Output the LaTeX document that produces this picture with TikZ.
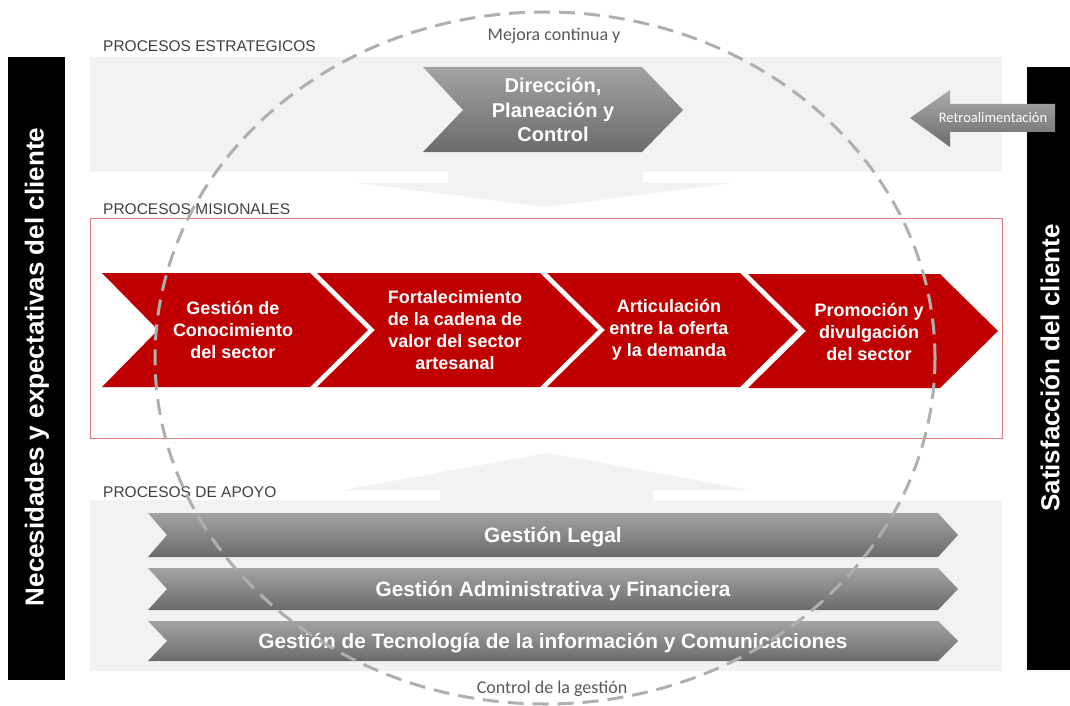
\documentclass[tikz,border=0pt]{standalone}
\usepackage{fontspec}
\setmainfont{Liberation Sans}
\newfontfamily\calibri{Carlito}
\definecolor{misred}{HTML}{C00000}
\definecolor{framered}{HTML}{E07A7A}
\definecolor{bandgray}{HTML}{F2F2F2}
\definecolor{labelgray}{HTML}{404040}
\definecolor{notegray}{HTML}{595959}
\definecolor{bartop}{HTML}{A3A3A3}
\definecolor{barbottom}{HTML}{6B6B6B}
\definecolor{circlegray}{HTML}{AFAFAF}
\tikzset{
  band/.style={fill=bandgray},
  titulo/.style={anchor=west,inner sep=0pt,text=labelgray,font=\fontsize{15.5}{16}\selectfont},
  cliente/.style={rotate=90,text=white,font=\bfseries\fontsize{26}{26}\selectfont},
  misionshape/.style={fill=misred},
  misiontext/.style={text=white,align=center,font=\bfseries\fontsize{18}{22}\selectfont},
  grayshape/.style={top color=bartop,bottom color=barbottom},
  apoyotext/.style={text=white,font=\bfseries\fontsize{20.8}{20.8}\selectfont},
  nota/.style={text=notegray,font=\calibri\fontsize{18}{18}\selectfont}
}
\begin{document}
\begin{tikzpicture}[x=1pt,y=-1pt]
    \useasboundingbox (0,0) rectangle (1070,706);

    % bands and flow arrows
    \fill[band] (90,57) rectangle (1002,172);
    \fill[band] (448,172) -- (643,172) -- (643,183) -- (733,183) -- (545,207) -- (357,183) -- (448,183) -- cycle;
    \fill[band] (90,500) rectangle (1002,671);
    \fill[band] (440,500) -- (440,490) -- (343,490) -- (547,453) -- (750,490) -- (653,490) -- (653,500) -- cycle;
    \draw[framered,line width=1pt] (90,218) rectangle (1002,438);

    \node[titulo] (estrategicos) at (103,46) {PROCESOS ESTRATEGICOS};
    \node[titulo] (misionales) at (103,209) {PROCESOS MISIONALES};
    \node[titulo] (apoyo) at (103,492) {PROCESOS DE APOYO};

    % client bars
    \fill[black] (8,57) rectangle (65,680);
    \node[cliente] (necesidades) at (37,367) {Necesidades y expectativas del cliente};
    \fill[black] (1027,67) rectangle (1070,670);
    \node[cliente] (satisfaccion) at (1050,368) {Satisfacción del cliente};

    % strategic
    \path[grayshape] (423,67) -- (642,67) -- (683,110) -- (642,152) -- (423,152) -- (463,110) -- cycle;
    \node[misiontext,font=\bfseries\fontsize{20}{24.5}\selectfont] (direccion) at (553,110) {Dirección,\\Planeación y\\Control};
    \path[grayshape,top color=bartop!90] (910,118) -- (950,90) -- (950,104) -- (1055,104) -- (1055,132) -- (950,132) -- (950,147) -- cycle;
    \node[text=white,font=\calibri\fontsize{14.5}{14.5}\selectfont] (retro) at (993,118) {Retroalimentación};

    % missional
    \fill[misionshape] (102,273) -- (310,273) -- (368,330) -- (310,387) -- (102,387) -- (158,330) -- cycle;
    \fill[misionshape] (317,273) -- (540,273) -- (598,330) -- (540,387) -- (317,387) -- (375,330) -- cycle;
    \fill[misionshape] (547,273) -- (740,273) -- (798,330) -- (740,387) -- (547,387) -- (605,330) -- cycle;
    \fill[misionshape] (748,274) -- (940,274) -- (998,331) -- (940,388) -- (748,388) -- (806,331) -- cycle;
    \node[misiontext] (conocimiento) at (233,330) {Gestión de\\Conocimiento\\del sector};
    \node[misiontext] (cadena) at (455,330) {Fortalecimiento\\de la cadena de\\valor del sector\\artesanal};
    \node[misiontext] (articulacion) at (669,330) {Articulación\\entre la oferta\\y la demanda};
    \node[misiontext] (promocion) at (869,332) {Promoción y\\divulgación\\del sector};

    % support
    \path[grayshape] (148,513) -- (938,513) -- (958,535) -- (938,557) -- (148,557) -- (167,535) -- cycle;
    \path[grayshape] (148,568) -- (938,568) -- (958,589) -- (938,610) -- (148,610) -- (167,589) -- cycle;
    \path[grayshape] (148,621) -- (938,621) -- (958,641) -- (938,661) -- (148,661) -- (167,641) -- cycle;
    \node[apoyotext] (legal) at (553,537) {Gestión Legal};
    \node[apoyotext] (administrativa) at (553,591) {Gestión Administrativa y Financiera};
    \node[apoyotext] (tecnologia) at (553,643) {Gestión de Tecnología de la información y Comunicaciones};

    % improvement cycle
    \draw[circlegray,line width=3pt,dash pattern=on 16pt off 9pt] (545,358) ellipse [x radius=390,y radius=346];
    \node[nota] (mejora) at (554,36) {Mejora continua y};
    \node[nota] (control) at (552,689) {Control de la gestión};
\end{tikzpicture}
\end{document}
